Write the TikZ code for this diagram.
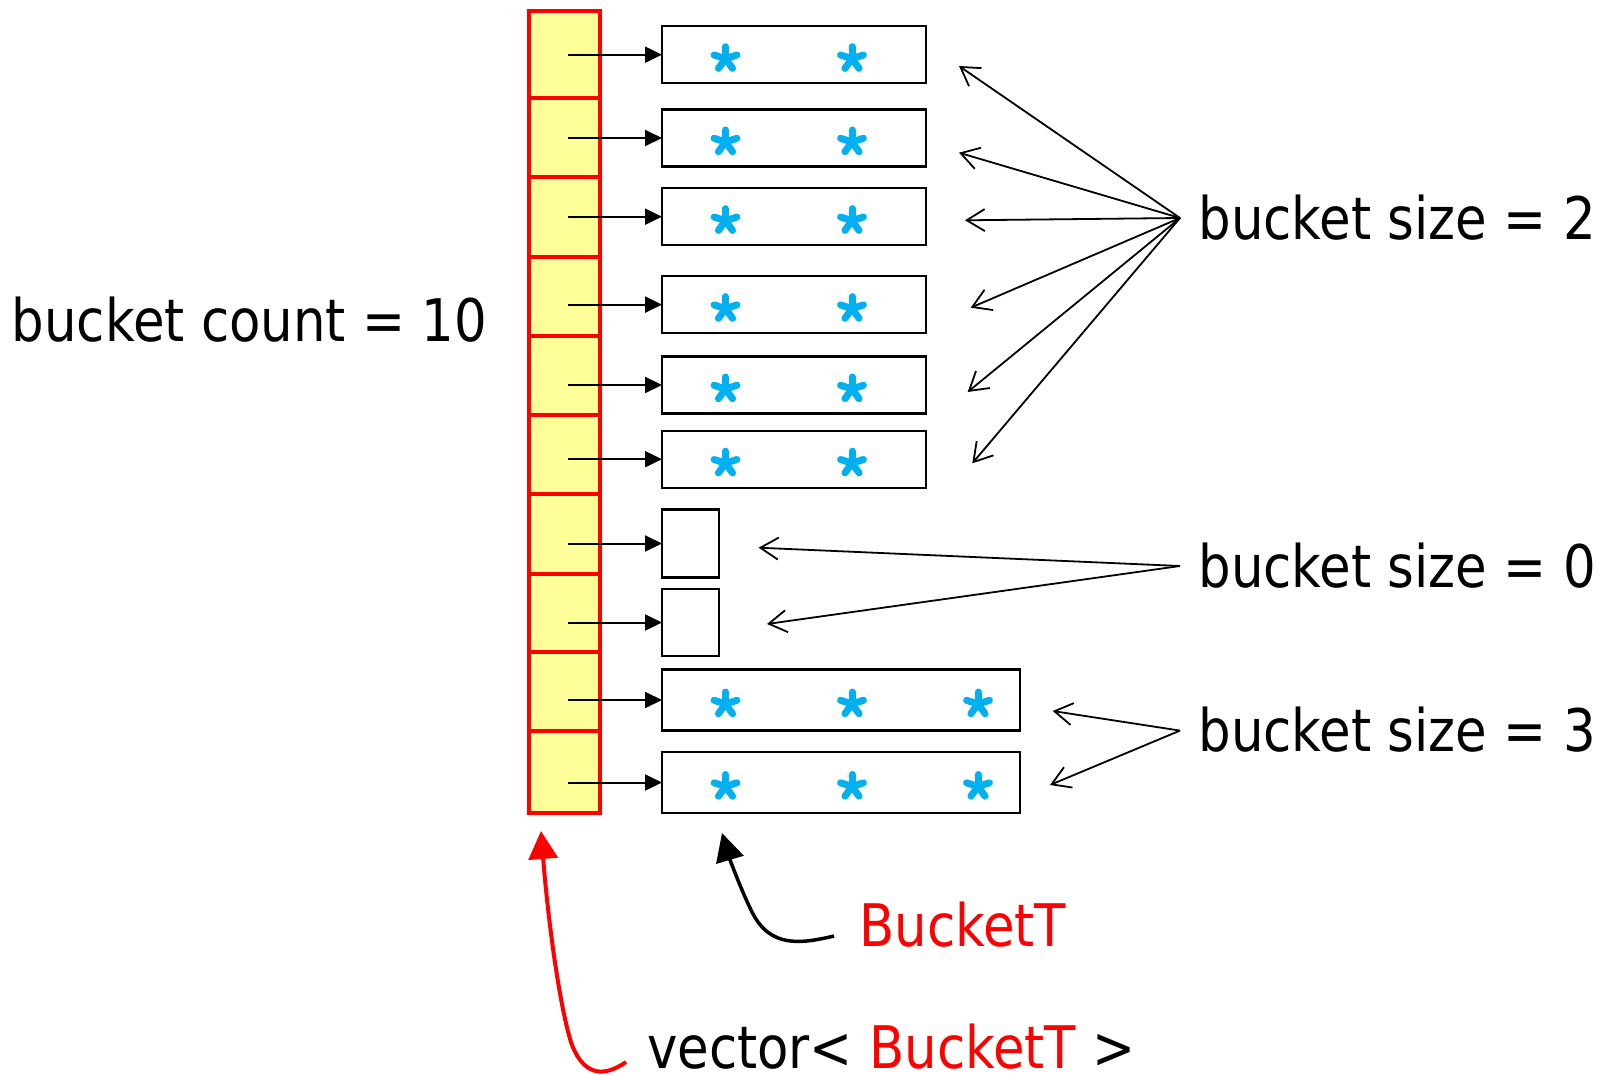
\documentclass[tikz,border=0pt]{standalone}
\usepackage{fontspec}
\setmainfont{DejaVu Sans}[FakeStretch=0.875]
\usetikzlibrary{arrows.meta}
\definecolor{cellfill}{RGB}{255,255,153}
\definecolor{starblue}{RGB}{0,176,240}
\begin{document}
\begin{tikzpicture}[x=1pt,y=-1pt,
  cell/.style={draw=red, line width=4pt, fill=cellfill, minimum width=71pt,
    inner sep=0pt, outer sep=0pt},
  bucket/.style={draw=black, line width=2.4pt, inner sep=0pt, outer sep=0pt},
  ptr/.style={line width=2pt, shorten <=3.5pt, -{Triangle[length=17pt,width=16pt]}},
  fan/.style={line width=1.8pt, -{Straight Barb[length=18pt,width=22pt]}},
  lbl/.style={anchor=base west, inner sep=0pt, font=\fontsize{58.7}{70}\selectfont},
  astk/.pic={\foreach \a in {-90,-18,54,126,198}
    \draw[starblue, line width=7pt, line cap=round] (0,0) -- (\a:12);}
]
\path[fill=white] (0,0) rectangle (1600,1075);
\useasboundingbox (0,0) rectangle (1600,1075);

% the vector of buckets
\node[cell, minimum height=87pt]   (c1)  at (564.5,54.5)  {};
\node[cell, minimum height=79.5pt] (c2)  at (564.5,137.75) {};
\node[cell, minimum height=79.5pt] (c3)  at (564.5,217.25) {};
\node[cell, minimum height=79pt]   (c4)  at (564.5,296.5) {};
\node[cell, minimum height=79pt]   (c5)  at (564.5,375.5) {};
\node[cell, minimum height=79pt]   (c6)  at (564.5,454.5) {};
\node[cell, minimum height=79.5pt] (c7)  at (564.5,533.75) {};
\node[cell, minimum height=78.5pt] (c8)  at (564.5,612.75) {};
\node[cell, minimum height=79pt]   (c9)  at (564.5,691.5) {};
\node[cell, minimum height=82pt]   (c10) at (564.5,772)   {};

% the buckets
\node[bucket, minimum width=264pt, minimum height=57pt] (b1) at (794,54.7)  {};
\node[bucket, minimum width=264pt, minimum height=57pt] (b2) at (794,138)   {};
\node[bucket, minimum width=264pt, minimum height=57pt] (b3) at (794,216.7) {};
\node[bucket, minimum width=264pt, minimum height=57pt] (b4) at (794,304.6) {};
\node[bucket, minimum width=264pt, minimum height=57pt] (b5) at (794,385)   {};
\node[bucket, minimum width=264pt, minimum height=57pt] (b6) at (794,459.2) {};
\node[bucket, minimum width=57pt, minimum height=68pt]  (b7) at (690.5,543.5) {};
\node[bucket, minimum width=57pt, minimum height=67pt]  (b8) at (690.5,622.5) {};
\node[bucket, minimum width=358pt, minimum height=61pt] (b9) at (841,700)   {};
\node[bucket, minimum width=358pt, minimum height=61pt] (b10) at (841,782.5) {};

% elements
\foreach \i in {1,...,6} {
  \path (b\i.center) ++(-68.5,4) pic {astk};
  \path (b\i.center) ++(58,4) pic {astk};
}
\foreach \i in {9,10} {
  \path (b\i.center) ++(-115.5,4) pic {astk};
  \path (b\i.center) ++(11,4) pic {astk};
  \path (b\i.center) ++(137,4) pic {astk};
}

% pointers from the vector to its buckets
\foreach \i in {1,...,10}
  \draw[ptr] (c\i.center |- b\i.west) -- (b\i.west);

% labels
\node[lbl] (cnt) at (11.5,341.7) {bucket count = 10};
\node[lbl] (s2) at (1198.3,240) {bucket size = 2};
\node[lbl] (s0) at (1198.3,587.3) {bucket size = 0};
\node[lbl] (s3) at (1198.3,751.7) {bucket size = 3};
\node[lbl, text=red] (bt) at (859,946.7) {BucketT};
\node[lbl, text depth=0pt] (vec) at (646.8,1068.3) {vector< \textcolor{red}{BucketT} >};

% fan of size arrows
\coordinate (f2) at (1180,218);
\coordinate (t1) at (959,66);
\coordinate (t2) at (959,152.7);
\coordinate (t3) at (965,220.3);
\coordinate (t4) at (970.7,307.7);
\coordinate (t5) at (967.7,392);
\coordinate (t6) at (972.3,463.3);
\foreach \i in {1,...,6} \draw[fan] (f2) -- (t\i);

\coordinate (f0) at (1180,566);
\coordinate (t7) at (758.6,547.7);
\coordinate (t8) at (767,624);
\draw[fan] (f0) -- (t7);
\draw[fan] (f0) -- (t8);

\coordinate (f3) at (1180,730.6);
\coordinate (t9) at (1052.7,711);
\coordinate (t10) at (1050,785);
\draw[fan] (f3) -- (t9);
\draw[fan] (f3) -- (t10);

% callouts for the element type and the container
\coordinate (btfrom) at (834,936);
\coordinate (btto) at (722,833);
\draw[line width=3.5pt, -{Triangle[length=28pt,width=28pt]}]
  (btfrom) .. controls (800,944) and (770,948) .. (752,912)
           .. controls (742,892) and (730,860) .. (btto);

\coordinate (vfrom) at (626,1062);
\coordinate (vto) at (541,831);
\draw[red, line width=4pt, -{Triangle[length=28pt,width=29pt]}]
  (vfrom) .. controls (606,1076) and (585,1078) .. (572,1045)
          .. controls (560,1010) and (548,920) .. (vto);
\end{tikzpicture}
\end{document}
